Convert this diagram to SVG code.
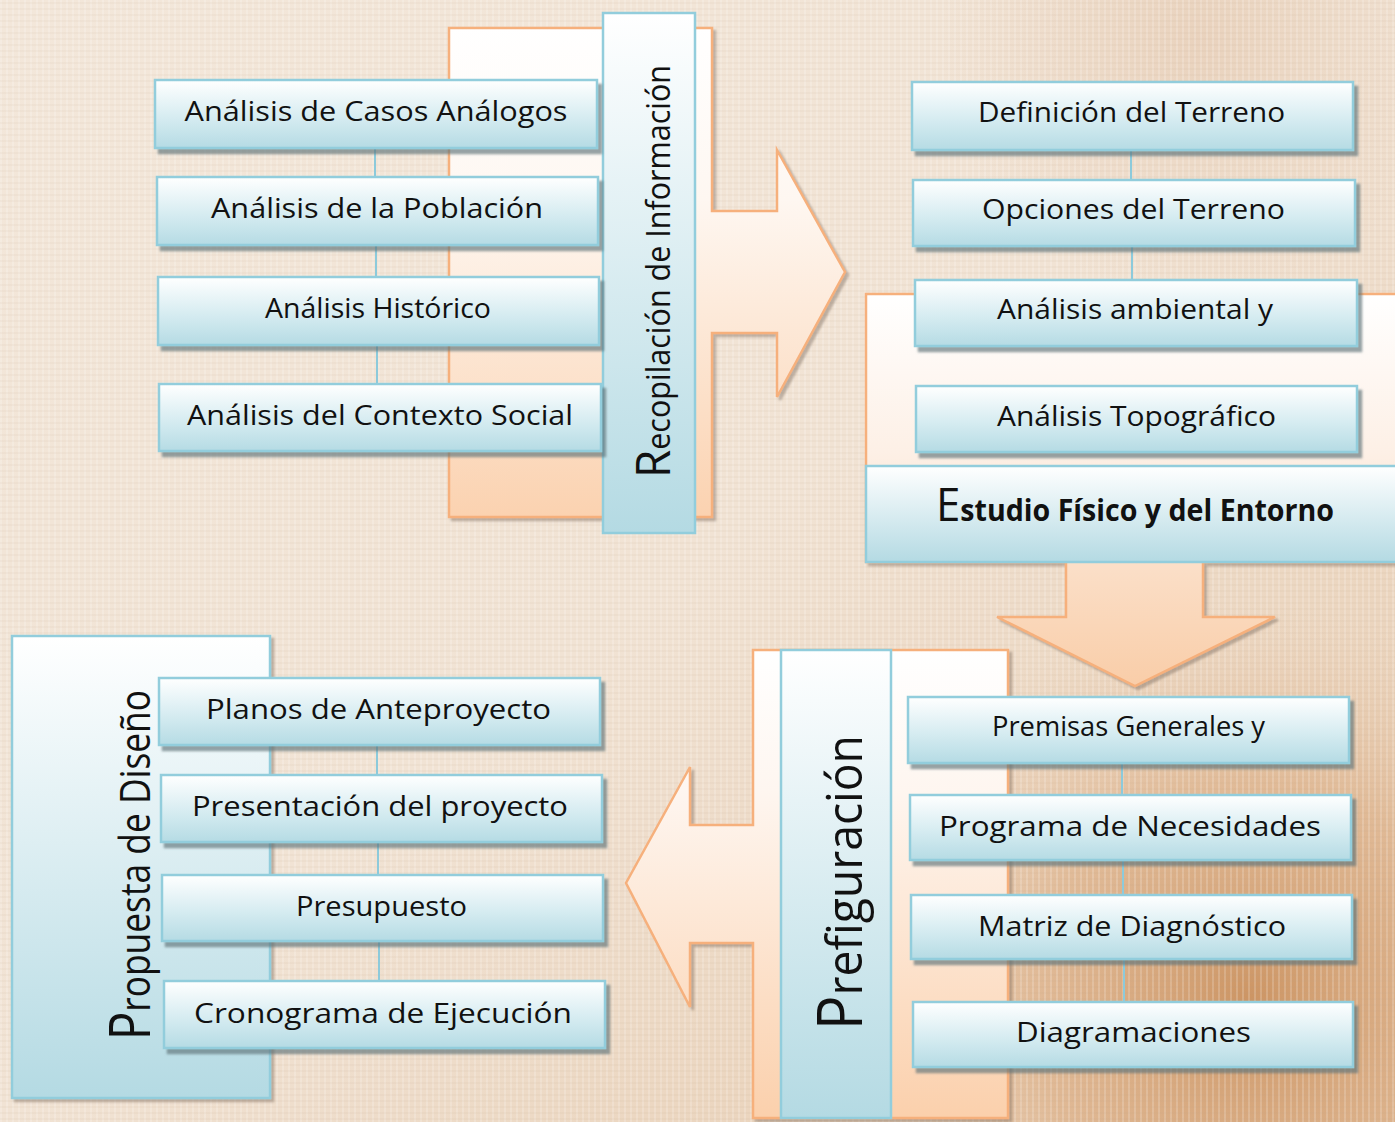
<svg xmlns="http://www.w3.org/2000/svg" width="1395" height="1122" viewBox="0 0 1395 1122">
<style>
  .box { fill: url(#gBox); stroke: #92cddc; stroke-width: 2.5; filter: url(#sh); }
  .bar { fill: url(#gBar); stroke: #92cddc; stroke-width: 2.5; }
  .ora { stroke: #f6b07c; stroke-width: 2.5; filter: url(#shC); }
  .lbl { font-family: "Open Sans", "DejaVu Sans", sans-serif; font-size: 27px; fill: #111; text-anchor: middle; }
  .ttl { font-family: "Open Sans", "DejaVu Sans", sans-serif; fill: #111; }
  .con { stroke: #8ccadb; stroke-width: 2; fill: none; }
</style>
<defs>
  <linearGradient id="gBox" x1="0" y1="0" x2="0" y2="1">
    <stop offset="0" stop-color="#ffffff"/>
    <stop offset="0.55" stop-color="#d6ecf1"/>
    <stop offset="1" stop-color="#b5dbe4"/>
  </linearGradient>
  <linearGradient id="gBar" x1="0" y1="0" x2="0" y2="1">
    <stop offset="0" stop-color="#ffffff"/>
    <stop offset="1" stop-color="#b4dae3"/>
  </linearGradient>
  <linearGradient id="gOr1" gradientUnits="userSpaceOnUse" x1="0" y1="28" x2="0" y2="517">
    <stop offset="0" stop-color="#ffffff"/>
    <stop offset="0.35" stop-color="#fef7f1"/>
    <stop offset="1" stop-color="#fbd2b0"/>
  </linearGradient>
  <linearGradient id="gOr2" gradientUnits="userSpaceOnUse" x1="0" y1="294" x2="0" y2="686">
    <stop offset="0" stop-color="#ffffff"/>
    <stop offset="0.4" stop-color="#fdf0e6"/>
    <stop offset="1" stop-color="#f9cda8"/>
  </linearGradient>
  <linearGradient id="gOr3" gradientUnits="userSpaceOnUse" x1="0" y1="650" x2="0" y2="1118">
    <stop offset="0" stop-color="#ffffff"/>
    <stop offset="0.3" stop-color="#fef6f0"/>
    <stop offset="1" stop-color="#fbd0ac"/>
  </linearGradient>
  <linearGradient id="gBg" x1="0" y1="0" x2="1" y2="1">
    <stop offset="0" stop-color="#f3e7da"/>
    <stop offset="0.5" stop-color="#f1e3d4"/>
    <stop offset="1" stop-color="#e6c9ac"/>
  </linearGradient>
  <radialGradient id="gBrown" cx="1250" cy="1000" r="400" gradientUnits="userSpaceOnUse">
    <stop offset="0" stop-color="#c98e5a" stop-opacity="0.9"/>
    <stop offset="0.55" stop-color="#d9a77b" stop-opacity="0.55"/>
    <stop offset="1" stop-color="#e8cdb2" stop-opacity="0"/>
  </radialGradient>
  <radialGradient id="gTop" cx="1200" cy="40" r="260" gradientUnits="userSpaceOnUse">
    <stop offset="0" stop-color="#e6cbb3" stop-opacity="0.7"/>
    <stop offset="1" stop-color="#e6cbb3" stop-opacity="0"/>
  </radialGradient>
  <pattern id="tex" width="6" height="6" patternUnits="userSpaceOnUse">
    <line x1="1" y1="0" x2="1" y2="6" stroke="#ffffff" stroke-opacity="0.3" stroke-width="1.2"/>
    <line x1="0" y1="3" x2="6" y2="3" stroke="#b99477" stroke-opacity="0.14" stroke-width="1"/>
  </pattern>
  <filter id="sh" x="-5%" y="-20%" width="115%" height="150%">
    <feDropShadow dx="4" dy="5" stdDeviation="0.8" flood-color="#5e7479" flood-opacity="0.65"/>
  </filter>
  <filter id="shC" x="-5%" y="-5%" width="115%" height="115%">
    <feDropShadow dx="3" dy="3" stdDeviation="1.2" flood-color="#7a6a5e" flood-opacity="0.45"/>
  </filter>
</defs>

<!-- background -->
<rect x="0" y="0" width="1395" height="1122" fill="url(#gBg)"/>
<rect x="0" y="0" width="1395" height="1122" fill="url(#gTop)"/>
<rect x="0" y="0" width="1395" height="1122" fill="url(#gBrown)"/>
<rect x="0" y="0" width="1395" height="1122" fill="url(#tex)"/>

<!-- containers / section shapes -->
<g id="recopilacion">
  <path class="ora" fill="url(#gOr1)" d="M449,28 H712 V211 H777 V150 L845,272 L777,397 V333 H712 V517 H449 Z"/>
  <rect class="bar" x="603" y="13" width="92" height="520"/>
  <text class="ttl" transform="translate(670,478) rotate(-90)" font-size="32" textLength="413" lengthAdjust="spacingAndGlyphs"><tspan font-size="48">R</tspan>ecopilación de Información</text>
</g>

<g id="estudio">
  <path class="ora" fill="url(#gOr2)" d="M866,294 H1400 V562 H1203 V617 H1275 L1135,686 L997,617 H1066 V562 H866 Z"/>
  <rect class="bar" x="866" y="466" width="540" height="96"/>
  <text class="ttl" x="936" y="521" font-size="30" font-weight="bold" textLength="398" lengthAdjust="spacingAndGlyphs"><tspan font-size="46" font-weight="normal">E</tspan>studio Físico y del Entorno</text>
</g>

<g id="prefiguracion">
  <path class="ora" fill="url(#gOr3)" d="M753,650 H1008 V1118 H753 V943 H690 V1007 L626,883 L690,767 V825 H753 Z"/>
  <rect class="bar" x="781" y="650" width="110" height="468"/>
  <text class="ttl" transform="translate(862,1030) rotate(-90)" font-size="50" textLength="295" lengthAdjust="spacingAndGlyphs"><tspan font-size="62">P</tspan>refiguración</text>
</g>

<g id="propuesta">
  <rect class="bar" x="12" y="636" width="258" height="462" filter="url(#shC)"/>
  <text class="ttl" transform="translate(150,1040) rotate(-90)" font-size="42" textLength="350" lengthAdjust="spacingAndGlyphs"><tspan font-size="56">P</tspan>ropuesta de Diseño</text>
</g>

<!-- connectors -->
<g id="connectors">
  <path class="con" d="M375,148 V177 M376,245 V277 M377,345 V384"/>
  <path class="con" d="M1131,150 V180 M1132,246 V280"/>
  <path class="con" d="M1122,763 V795 M1123,860 V895 M1124,959 V1002"/>
  <path class="con" d="M377,745 V775 M378,842 V875 M379,941 V981"/>
</g>

<!-- item nodes: Recopilación -->
<g id="n-casos"><rect class="box" x="155" y="80" width="442" height="68"/><text class="lbl" x="376" y="121" textLength="383" lengthAdjust="spacingAndGlyphs">Análisis de Casos Análogos</text></g>
<g id="n-poblacion"><rect class="box" x="157" y="177" width="441" height="68"/><text class="lbl" x="377" y="218" textLength="332" lengthAdjust="spacingAndGlyphs">Análisis de la Población</text></g>
<g id="n-historico"><rect class="box" x="158" y="277" width="441" height="68"/><text class="lbl" x="378" y="318" textLength="226" lengthAdjust="spacingAndGlyphs">Análisis Histórico</text></g>
<g id="n-contexto"><rect class="box" x="159" y="384" width="442" height="67"/><text class="lbl" x="380" y="425" textLength="386" lengthAdjust="spacingAndGlyphs">Análisis del Contexto Social</text></g>

<!-- item nodes: Estudio -->
<g id="n-definicion"><rect class="box" x="912" y="82" width="441" height="68"/><text class="lbl" x="1131.5" y="122" textLength="307" lengthAdjust="spacingAndGlyphs">Definición del Terreno</text></g>
<g id="n-opciones"><rect class="box" x="913" y="180" width="442" height="66"/><text class="lbl" x="1133.5" y="219" textLength="303" lengthAdjust="spacingAndGlyphs">Opciones del Terreno</text></g>
<g id="n-ambiental"><rect class="box" x="915" y="280" width="442" height="66"/><text class="lbl" x="1135" y="319" textLength="276" lengthAdjust="spacingAndGlyphs">Análisis ambiental y</text></g>
<g id="n-topografico"><rect class="box" x="916" y="386" width="441" height="66"/><text class="lbl" x="1136.5" y="426" textLength="279" lengthAdjust="spacingAndGlyphs">Análisis Topográfico</text></g>

<!-- item nodes: Prefiguración -->
<g id="n-premisas"><rect class="box" x="908" y="697" width="441" height="66"/><text class="lbl" x="1128.5" y="736" font-size="25" textLength="273" lengthAdjust="spacingAndGlyphs">Premisas Generales y</text></g>
<g id="n-programa"><rect class="box" x="910" y="795" width="441" height="65"/><text class="lbl" x="1130" y="836" textLength="382" lengthAdjust="spacingAndGlyphs">Programa de Necesidades</text></g>
<g id="n-matriz"><rect class="box" x="911" y="895" width="441" height="64"/><text class="lbl" x="1132" y="936" textLength="308" lengthAdjust="spacingAndGlyphs">Matriz de Diagnóstico</text></g>
<g id="n-diagramaciones"><rect class="box" x="913" y="1002" width="440" height="65"/><text class="lbl" x="1133.5" y="1042" textLength="235" lengthAdjust="spacingAndGlyphs">Diagramaciones</text></g>

<!-- item nodes: Propuesta -->
<g id="n-planos"><rect class="box" x="159" y="678" width="441" height="67"/><text class="lbl" x="378.5" y="719" textLength="345" lengthAdjust="spacingAndGlyphs">Planos de Anteproyecto</text></g>
<g id="n-presentacion"><rect class="box" x="161" y="775" width="441" height="67"/><text class="lbl" x="380" y="816" textLength="376" lengthAdjust="spacingAndGlyphs">Presentación del proyecto</text></g>
<g id="n-presupuesto"><rect class="box" x="162" y="875" width="441" height="66"/><text class="lbl" x="381.5" y="916" textLength="171" lengthAdjust="spacingAndGlyphs">Presupuesto</text></g>
<g id="n-cronograma"><rect class="box" x="164" y="981" width="441" height="67"/><text class="lbl" x="383" y="1023" textLength="378" lengthAdjust="spacingAndGlyphs">Cronograma de Ejecución</text></g>
</svg>
